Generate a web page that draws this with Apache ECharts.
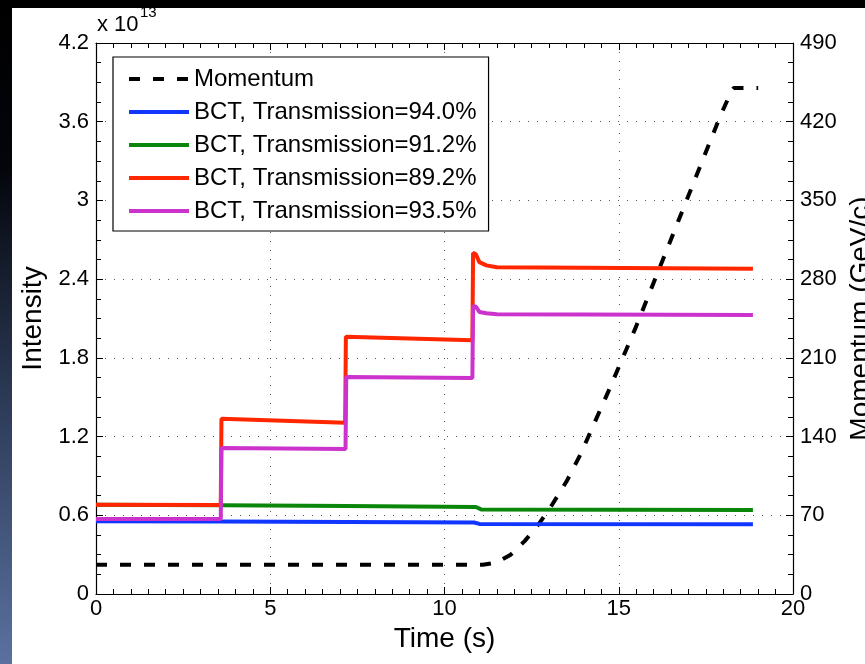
<!DOCTYPE html>
<html>
<head>
<meta charset="utf-8">
<script src="https://cdn.jsdelivr.net/npm/echarts@6/dist/echarts.min.js"></script>
<style>
html,body{margin:0;padding:0;background:#fff;}
#c{width:865px;height:664px;}
</style>
</head>
<body>
<div id="c"></div>
<script>
// ---- data (intensity in units of 1e13, momentum in GeV/c, time in s) ----
var momT = [0, 11.1, 11.5, 11.9, 12.3, 12.7, 13.1, 13.5, 13.9, 14.3, 14.7, 15.1, 15.5, 15.9, 16.3, 16.7, 17.1, 17.5, 17.9, 18.1, 18.2, 18.3, 19.0];
var momP = [26, 26, 28, 35, 47, 62, 80, 100, 124, 152, 180, 209, 238, 269, 300, 331, 362, 393, 424, 438, 446, 450, 450];

var blueT = [0, 3.6, 7.2, 10.85, 11.0, 18.85];
var blueI = [0.555, 0.552, 0.549, 0.545, 0.534, 0.532];

var greenT = [0, 3.6, 7.2, 10.9, 11.05, 18.85];
var greenI = [0.68, 0.676, 0.671, 0.663, 0.645, 0.640];

var redT = [0, 3.58, 3.6, 7.15, 7.17, 10.8, 10.82, 10.9, 11.0, 11.2, 11.5, 18.85];
var redI = [0.68, 0.678, 1.335, 1.305, 1.96, 1.935, 2.60, 2.59, 2.53, 2.505, 2.49, 2.48];

var magT = [0, 3.58, 3.6, 7.16, 7.18, 10.8, 10.82, 10.9, 11.0, 11.2, 11.5, 18.85];
var magI = [0.572, 0.572, 1.113, 1.105, 1.655, 1.647, 2.196, 2.19, 2.15, 2.14, 2.133, 2.127];

var seriesNames = ['Momentum', 'BCT, Transmission=94.0%', 'BCT, Transmission=91.2%', 'BCT, Transmission=89.2%', 'BCT, Transmission=93.5%'];
var xTicks = [0, 5, 10, 15, 20];
var yTicksLeft = [0, 0.6, 1.2, 1.8, 2.4, 3, 3.6, 4.2];
var yTicksRight = [0, 70, 140, 210, 280, 350, 420, 490];

function zip(a, b) { return a.map(function (v, i) { return [v, b[i]]; }); }

var FONT = 'Liberation Sans';
var chart = echarts.init(document.getElementById('c'), null, {renderer: 'canvas'});

var axisLineStyle = {color: '#000', width: 1.2};
var option = {
  backgroundColor: '#ffffff',
  animation: false,
  textStyle: {fontFamily: FONT},
  graphic: [
    {type: 'rect', left: 0, top: 0, shape: {width: 865, height: 8}, style: {fill: '#000'}, z: 100},
    {type: 'rect', left: 0, top: 0, shape: {width: 12, height: 664},
      style: {fill: new echarts.graphic.LinearGradient(0, 0, 0, 1, [
        {offset: 0, color: '#000000'},
        {offset: 0.25, color: '#03050a'},
        {offset: 0.6, color: '#2c3a56'},
        {offset: 1, color: '#5a71a0'}
      ])}, z: 100},
    {type: 'text', left: 97, top: 14, style: {text: 'x 10', font: '22px "Liberation Sans"', fill: '#000'}},
    {type: 'text', left: 140, top: 5, style: {text: '13', font: '15px "Liberation Sans"', fill: '#000'}}
  ],
  grid: {left: 96, right: 72, top: 43, bottom: 70, containLabel: false, outerBoundsMode: 'none'},
  legend: {
    orient: 'vertical',
    left: 113, top: 57,
    padding: [10, 12, 8, 14],
    itemWidth: 60, itemHeight: 14, itemGap: 9,
    backgroundColor: '#fff',
    borderColor: '#000', borderWidth: 1.2, borderRadius: 0,
    itemStyle: {opacity: 0},
    lineStyle: {width: 4},
    textStyle: {fontSize: 24, lineHeight: 24, color: '#000', fontFamily: FONT},
    data: seriesNames,
    selectedMode: false,
    z: 10
  },
  xAxis: [{
    type: 'value', min: 0, max: 20, interval: 5, position: 'bottom',
    name: 'Time (s)', nameLocation: 'middle', nameGap: 28,
    nameTextStyle: {fontSize: 28, color: '#000', fontFamily: FONT},
    axisLine: {show: true, onZero: false, lineStyle: axisLineStyle},
    axisTick: {show: true, inside: true, length: 7, lineStyle: {color: '#000'}},
    minorTick: {show: true, splitNumber: 10, length: 5, lineStyle: {color: '#000'}},
    axisLabel: {fontSize: 22, color: '#000', margin: 4, fontFamily: FONT},
    splitLine: {show: true, lineStyle: {color: '#555', width: 1, type: [1, 8]}}
  }, {
    type: 'value', min: 0, max: 20, interval: 5, position: 'top',
    axisLine: {show: true, onZero: false, lineStyle: axisLineStyle},
    axisTick: {show: true, inside: true, length: 7, lineStyle: {color: '#000'}},
    minorTick: {show: true, splitNumber: 10, length: 5, lineStyle: {color: '#000'}},
    axisLabel: {show: false},
    splitLine: {show: false}
  }],
  yAxis: [{
    type: 'value', min: 0, max: 4.2, interval: 0.6, position: 'left',
    name: 'Intensity', nameLocation: 'middle', nameGap: 48, nameRotate: 90,
    nameTextStyle: {fontSize: 28, color: '#000', fontFamily: FONT},
    axisLine: {show: true, onZero: false, lineStyle: axisLineStyle},
    axisTick: {show: true, inside: true, length: 7, lineStyle: {color: '#000'}},
    minorTick: {show: true, splitNumber: 4, length: 5, lineStyle: {color: '#000'}},
    axisLabel: {fontSize: 22, color: '#000', margin: 7, fontFamily: FONT,
      formatter: function (v) { return String(+v.toFixed(1)); }},
    splitLine: {show: true, lineStyle: {color: '#555', width: 1, type: [1, 8]}}
  }, {
    type: 'value', min: 0, max: 490, interval: 70, position: 'right',
    name: 'Momentum (GeV/c)', nameLocation: 'middle', nameGap: 48, nameRotate: 90,
    nameTextStyle: {fontSize: 28, color: '#000', fontFamily: FONT},
    axisLine: {show: true, onZero: false, lineStyle: axisLineStyle},
    axisTick: {show: true, inside: true, length: 7, lineStyle: {color: '#000'}},
    minorTick: {show: true, splitNumber: 4, length: 5, lineStyle: {color: '#000'}},
    axisLabel: {fontSize: 22, color: '#000', margin: 7, fontFamily: FONT},
    splitLine: {show: false}
  }],
  series: [
    {name: seriesNames[0], type: 'line', xAxisIndex: 0, yAxisIndex: 1, data: zip(momT, momP),
      showSymbol: false, symbol: 'none', color: '#000',
      lineStyle: {color: '#000', width: 4, type: [11, 13]}, z: 2},
    {name: seriesNames[1], type: 'line', xAxisIndex: 0, yAxisIndex: 0, data: zip(blueT, blueI),
      showSymbol: false, symbol: 'none', color: '#1036ff',
      lineStyle: {color: '#1036ff', width: 4}, z: 3},
    {name: seriesNames[2], type: 'line', xAxisIndex: 0, yAxisIndex: 0, data: zip(greenT, greenI),
      showSymbol: false, symbol: 'none', color: '#0a870a',
      lineStyle: {color: '#0a870a', width: 4}, z: 4},
    {name: seriesNames[3], type: 'line', xAxisIndex: 0, yAxisIndex: 0, data: zip(redT, redI),
      showSymbol: false, symbol: 'none', color: '#ff2600',
      lineStyle: {color: '#ff2600', width: 4}, z: 5},
    {name: seriesNames[4], type: 'line', xAxisIndex: 0, yAxisIndex: 0, data: zip(magT, magI),
      showSymbol: false, symbol: 'none', color: '#cc33cc',
      lineStyle: {color: '#cc33cc', width: 4}, z: 6}
  ]
};
chart.setOption(option);
</script>
</body>
</html>
